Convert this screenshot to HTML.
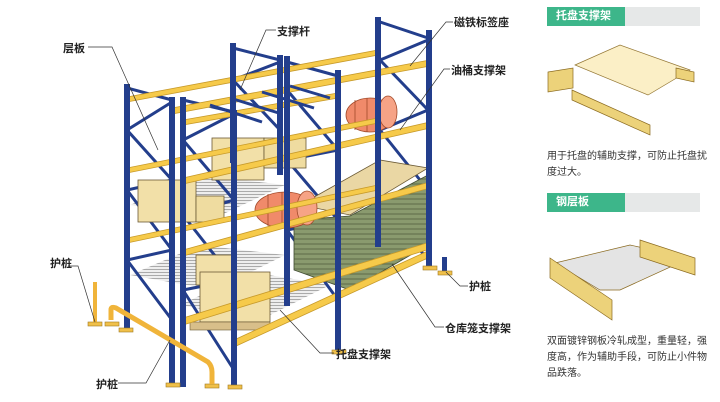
<!DOCTYPE html>
<html><head><meta charset="utf-8"><style>
html,body{margin:0;padding:0;background:#fff;}
body{width:720px;height:402px;position:relative;overflow:hidden;font-family:"Liberation Sans","Noto Sans CJK SC",sans-serif;}
.lb{position:absolute;font-size:11px;font-weight:bold;color:#222;white-space:nowrap;}
.hd{position:absolute;left:547px;width:153px;height:19px;background:#e6e8e8;}
.hd span{display:block;width:78px;height:19px;background:#3db68a;color:#fff;font-size:11px;font-weight:bold;line-height:19px;padding-left:9px;box-sizing:border-box;}
.tx{position:absolute;left:547px;width:160px;font-size:10px;line-height:16px;color:#333;}
</style></head><body>
<svg width="720" height="402" style="position:absolute;left:0;top:0">
<defs>
<pattern id="gr" width="6" height="3" patternUnits="userSpaceOnUse"><rect width="6" height="3" fill="#eee"/><line x1="0" y1="2.5" x2="6" y2="2.5" stroke="#999" stroke-width="0.8"/></pattern>
<pattern id="gn" width="6" height="5" patternUnits="userSpaceOnUse"><rect width="6" height="5" fill="#8a9a6e"/><line x1="0" y1="4" x2="6" y2="4" stroke="#5d6b48" stroke-width="1"/></pattern>
</defs>
<polygon points="130,205 200,175 285,185 215,218" fill="url(#gr)"/>
<polygon points="130,275 200,245 285,255 215,290" fill="url(#gr)"/>
<polygon points="180,305 250,272 330,285 260,320" fill="url(#gr)"/>
<g stroke="#233e8c" stroke-width="3" fill="none">
<path d="M380,22 L428,38 M380,60 L428,40 M380,60 L428,110 M380,130 L428,110 M380,130 L428,190 M380,200 L428,190 M380,200 L428,260"/>
<path d="M233,48 L280,60 M233,80 L280,62 M233,80 L280,130 M287,62 L338,76 M287,90 L338,80 M287,90 L338,150 M287,160 L338,150 M287,160 L338,220 M287,230 L338,220 M287,230 L338,300"/>
<path d="M127,88 L172,100 M127,130 L172,102 M127,130 L172,180 M127,190 L172,180 M127,190 L172,250 M127,260 L172,250 M127,260 L172,320"/>
<path d="M183,100 L234,112 M183,140 L234,114 M183,140 L234,200 M183,215 L234,200 M183,215 L234,280 M183,290 L234,280 M183,290 L234,370"/>
</g>
<rect x="212" y="138" width="52" height="42" fill="#f2e0a8" stroke="#6b5a35" stroke-width="0.8"/>
<rect x="264" y="138" width="42" height="30" fill="#efdca0" stroke="#6b5a35" stroke-width="0.8"/>
<rect x="138" y="180" width="58" height="42" fill="#f2e0a8" stroke="#6b5a35" stroke-width="0.8"/>
<rect x="196" y="196" width="28" height="26" fill="#efdca0" stroke="#6b5a35" stroke-width="0.8"/>
<rect x="196" y="255" width="40" height="30" fill="#f2e0a8" stroke="#6b5a35" stroke-width="0.8"/>
<rect x="200" y="272" width="70" height="50" fill="#f2e0a8" stroke="#6b5a35" stroke-width="0.8"/>
<rect x="190" y="322" width="80" height="8" fill="#d8bf8a" stroke="#6b5a35" stroke-width="0.6"/>
<polygon points="300,205 380,160 428,168 350,215" fill="#ead7a4" stroke="#6b5a35" stroke-width="0.8"/>
<polygon points="294,220 350,216 428,175 428,245 350,290 294,270" fill="url(#gn)" stroke="#3f4a30" stroke-width="0.8"/>
<g stroke="#a24a2a" stroke-width="0.8">
<ellipse cx="370" cy="115" rx="24" ry="17" fill="#f08a6a"/>
<ellipse cx="388" cy="112" rx="9" ry="16" fill="#f6a386"/>
<line x1="355" y1="100" x2="355" y2="130"/><line x1="367" y1="98" x2="367" y2="132"/>
<ellipse cx="285" cy="210" rx="30" ry="18" fill="#f08a6a"/>
<ellipse cx="307" cy="208" rx="10" ry="17" fill="#f6a386"/>
<line x1="268" y1="194" x2="268" y2="226"/><line x1="282" y1="192" x2="282" y2="228"/>
</g>
<g stroke="#c79a2a" stroke-width="0.8" fill="#f6ca4a">
<polygon points="127,97 378,50 378,55 127,102"/>
<polygon points="172,108 430,60 430,66 172,114"/>
<polygon points="183,120 338,93 338,98 183,125"/>
<polygon points="127,168 378,118 378,123 127,173"/>
<polygon points="183,178 430,122 430,128 183,184"/>
<polygon points="127,238 378,185 378,190 127,243"/>
<polygon points="183,250 430,182 430,188 183,256"/>
<polygon points="183,318 430,242 430,249 183,325"/>
<polygon points="234,340 430,250 430,257 234,347"/>
</g>
<g stroke="#233e8c" stroke-width="3">
<line x1="210" y1="105" x2="262" y2="122"/><line x1="230" y1="98" x2="282" y2="114"/><line x1="262" y1="92" x2="314" y2="108"/><line x1="290" y1="86" x2="330" y2="98"/>
</g>
<g fill="#233e8c">
<rect x="124" y="84" width="6" height="248"/><rect x="169" y="97" width="6" height="288"/>
<rect x="180" y="97" width="6" height="290"/><rect x="231" y="110" width="6" height="278"/>
<rect x="230" y="43" width="6" height="120"/><rect x="277" y="55" width="6" height="120"/>
<rect x="284" y="56" width="6" height="250"/><rect x="335" y="70" width="6" height="282"/>
<rect x="375" y="17" width="6" height="230"/><rect x="426" y="30" width="6" height="240"/>
<rect x="442" y="257" width="5" height="16"/>
</g>
<g fill="#f0c04a" stroke="#a07a20" stroke-width="0.6">
<rect x="119" y="328" width="14" height="4"/><rect x="166" y="383" width="14" height="4"/><rect x="228" y="385" width="14" height="4"/>
<rect x="332" y="350" width="14" height="4"/><rect x="423" y="266" width="14" height="4"/><rect x="438" y="271" width="14" height="4"/>
<rect x="88" y="322" width="14" height="4"/><rect x="105" y="322" width="14" height="4"/><rect x="205" y="384" width="14" height="4"/>
</g>
<path d="M95,282 L95,322" stroke="#f0b43a" stroke-width="4" fill="none"/>
<path d="M111,320 L111,310 Q111,306 116,308 L208,362 Q212,366 212,372 L212,384" stroke="#f0b43a" stroke-width="5" fill="none"/>
<g stroke="#333" stroke-width="0.7" fill="none">
<path d="M88,47 L112,47 L158,150"/>
<path d="M276,30 L266,30 L240,90"/>
<path d="M453,22 L446,22 L410,66"/>
<path d="M450,69 L444,69 L400,130"/>
<path d="M68,266 L78,266 L95,322"/>
<path d="M468,286 L460,286 L446,272"/>
<path d="M444,327 L435,327 L392,264"/>
<path d="M334,353 L320,353 L280,310"/>
<path d="M118,383 L146,383 L170,340"/>
</g>
<g stroke="#8a6a20" stroke-width="0.7">
<polygon points="575,65 620,45 690,70 648,95" fill="#fbeec0" opacity="0.9"/>
<polygon points="548,72 573,68 573,88 548,92" fill="#ecd27a"/>
<polygon points="572,90 650,125 650,135 572,100" fill="#ecd27a"/>
<polygon points="676,68 694,72 694,82 676,78" fill="#ecd27a"/>
<polygon points="555,263 630,245 690,258 620,290 600,290" fill="#e4e4e4"/>
<polygon points="550,258 612,300 612,320 550,278" fill="#ecd27a"/>
<polygon points="640,240 695,258 695,275 640,257" fill="#ecd27a"/>
</g>
</svg>
<div class="lb" style="left:63px;top:40px">层板</div>
<div class="lb" style="left:277px;top:23px">支撑杆</div>
<div class="lb" style="left:454px;top:14px">磁铁标签座</div>
<div class="lb" style="left:451px;top:62px">油桶支撑架</div>
<div class="lb" style="left:50px;top:255px">护桩</div>
<div class="lb" style="left:469px;top:278px">护桩</div>
<div class="lb" style="left:445px;top:320px">仓库笼支撑架</div>
<div class="lb" style="left:336px;top:346px">托盘支撑架</div>
<div class="lb" style="left:96px;top:376px">护桩</div>
<div class="hd" style="top:7px"><span>托盘支撑架</span></div>
<div class="tx" style="top:149px">用于托盘的辅助支撑，可防止托盘扰度过大。</div>
<div class="hd" style="top:193px"><span>钢层板</span></div>
<div class="tx" style="top:334px">双面镀锌钢板冷轧成型，重量轻，强度高，作为辅助手段，可防止小件物品跌落。</div>
</body></html>
